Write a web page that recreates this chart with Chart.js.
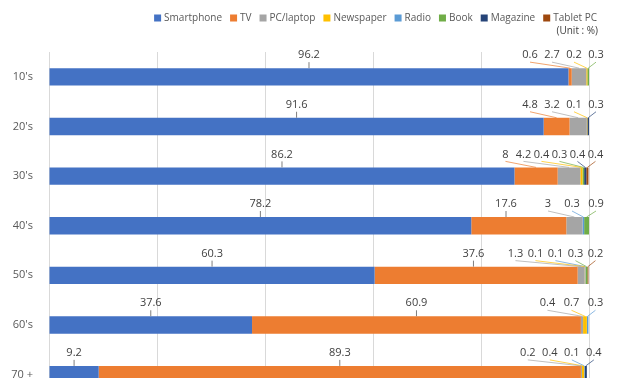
<!DOCTYPE html>
<html>
<head>
<meta charset="utf-8">
<script src="https://cdn.jsdelivr.net/npm/chart.js@4"></script>
<style>
  html, body { margin: 0; padding: 0; background: #fff; overflow: hidden; }
  #wrap { width: 621px; height: 414px; }
</style>
</head>
<body>
<div id="wrap"><canvas id="chart" width="621" height="414"></canvas></div>
<script>
// age groups
var ageGroups = ["10's", "20's", "30's", "40's", "50's", "60's", "70 +"];

// share by medium (%), zero = not shown
var smartphone = [96.2, 91.6, 86.2, 78.2, 60.3, 37.6, 9.2];
var tv         = [0.6, 4.8, 8, 17.6, 37.6, 60.9, 89.3];
var pcLaptop   = [2.7, 3.2, 4.2, 3, 1.3, 0.4, 0.2];
var newspaper  = [0.2, 0.1, 0.4, 0, 0.1, 0.7, 0.4];
var radio      = [0, 0, 0, 0.3, 0.1, 0.3, 0.1];
var book       = [0.3, 0, 0.3, 0.9, 0.3, 0, 0];
var magazine   = [0, 0.3, 0.4, 0, 0, 0, 0.4];
var tabletPc   = [0, 0, 0.4, 0, 0.2, 0, 0];

var seriesNames = ['Smartphone', 'TV', 'PC/laptop', 'Newspaper', 'Radio', 'Book', 'Magazine', 'Tablet PC'];
var seriesData = [smartphone, tv, pcLaptop, newspaper, radio, book, magazine, tabletPc];
var seriesColors = ['#4472C4', '#ED7D31', '#A5A5A5', '#FFC000', '#5B9BD5', '#70AD47', '#264478', '#9E480E'];

var FONT = '"Open Sans", "Noto Sans", sans-serif';

// legend drawn by hand so it can sit right-aligned like the original
var topLegend = {
    id: 'topLegend',
    afterDraw: function(chart) {
        var ctx = chart.ctx;
        ctx.save();
        ctx.font = '10px ' + FONT;
        ctx.textBaseline = 'middle';
        var x = 597;
        var y = 18;
        for (var i = seriesNames.length - 1; i >= 0; i--) {
            var w = ctx.measureText(seriesNames[i]).width;
            x -= w;
            ctx.fillStyle = '#595959';
            ctx.textAlign = 'left';
            ctx.fillText(seriesNames[i], x, y);
            x -= 10;
            ctx.fillStyle = seriesColors[i];
            ctx.fillRect(x, y - 3.5, 7, 7);
            x -= 8;
        }
        ctx.fillStyle = '#404040';
        ctx.textAlign = 'right';
        ctx.fillText('(Unit : %)', 598, 31);
        ctx.restore();
    }
};

// data labels with leader lines
var valueLabels = {
    id: 'valueLabels',
    afterDatasetsDraw: function(chart) {
        var ctx = chart.ctx;
        ctx.save();
        ctx.font = '11px ' + FONT;
        ctx.textAlign = 'center';
        ctx.textBaseline = 'middle';
        ctx.lineWidth = 1;

        for (var r = 0; r < ageGroups.length; r++) {
            var small = [];
            var big = [];
            var barEnd = 0;
            var barTop = 0;
            for (var d = 0; d < seriesData.length; d++) {
                var v = seriesData[d][r];
                if (!v) continue;
                var el = chart.getDatasetMeta(d).data[r];
                var item = {
                    value: v,
                    color: seriesColors[d],
                    mid: (el.x + el.base) / 2,
                    start: Math.min(el.x, el.base)
                };
                barEnd = Math.max(barEnd, el.x);
                barTop = el.y - el.height / 2;
                if (d === 0 || v >= 10) big.push(item); else small.push(item);
            }

            var labelY = barTop - 13;
            var n = small.length;
            var step = 24 - (n - 3) * 2;
            var leftmost = barEnd + 7;
            for (var k = n - 1; k >= 0; k--) {
                var lx = barEnd + 7 - (n - 1 - k) * step;
                leftmost = lx;
                ctx.strokeStyle = small[k].color;
                ctx.globalAlpha = 0.7;
                ctx.beginPath();
                ctx.moveTo(lx, labelY + 7);
                ctx.lineTo(small[k].mid, barTop);
                ctx.stroke();
                ctx.globalAlpha = 1;
                ctx.fillStyle = '#404040';
                ctx.fillText(String(small[k].value), lx, labelY);
            }

            big.forEach(function(item) {
                var lx = item.mid;
                var limit = leftmost - 42;
                if (n && lx > limit) {
                    // crowded: nudge left, or move to the segment start if far off
                    lx = (lx - limit > 20) ? item.start : limit;
                }
                ctx.strokeStyle = '#7f7f7f';
                ctx.beginPath();
                ctx.moveTo(lx, labelY + 7);
                ctx.lineTo(lx, barTop);
                ctx.stroke();
                ctx.fillStyle = '#404040';
                ctx.fillText(String(item.value), lx, labelY);
            });
        }
        ctx.restore();
    }
};

var datasets = seriesNames.map(function(name, i) {
    return {
        label: name,
        data: seriesData[i],
        backgroundColor: seriesColors[i],
        borderWidth: 0,
        barPercentage: 0.35,
        categoryPercentage: 1
    };
});

new Chart(document.getElementById('chart'), {
    type: 'bar',
    data: { labels: ageGroups, datasets: datasets },
    options: {
        indexAxis: 'y',
        responsive: false,
        animation: false,
        layout: { padding: { top: 52, right: 32, bottom: 0, left: 0 } },
        plugins: {
            legend: { display: false },
            tooltip: { enabled: false }
        },
        scales: {
            x: {
                stacked: true,
                min: 0,
                max: 100,
                ticks: { display: false, stepSize: 20 },
                grid: { color: '#d9d9d9', drawTicks: false },
                border: { display: false }
            },
            y: {
                stacked: true,
                grid: { display: false },
                border: { display: false },
                ticks: {
                    color: '#595959',
                    padding: 8,
                    font: { size: 11, family: FONT }
                },
                afterFit: function(axis) { axis.width = 49; }
            }
        }
    },
    plugins: [topLegend, valueLabels]
});
</script>
</body>
</html>
